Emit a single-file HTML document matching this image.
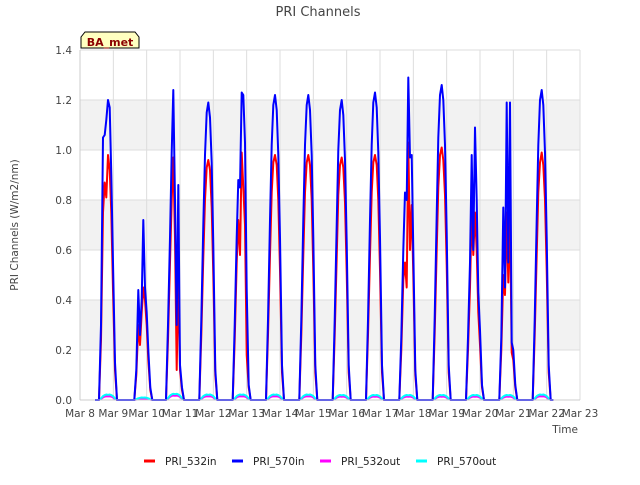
<!DOCTYPE html>
<html><head><meta charset="utf-8"><style>
body{margin:0;background:#fff;font-family:"Liberation Sans","DejaVu Sans",sans-serif}
svg text{font-family:"DejaVu Sans","Liberation Sans",sans-serif}
</style></head><body>
<svg id="chart" width="640" height="480" xmlns="http://www.w3.org/2000/svg">
<text x="318" y="16" text-anchor="middle" font-size="13" fill="#444">PRI Channels</text>
<g id="bands"></g><g id="grid"></g><g id="series"></g><g id="axes"></g>
<text transform="translate(18,225) rotate(-90)" text-anchor="middle" font-size="10.5" fill="#444">PRI Channels (W/m2/nm)</text>
<text x="578" y="433" text-anchor="end" font-size="10.5" fill="#444">Time</text>
<g>
<path d="M81,48 L81,37 L85,32 L135,32 L139,37 L139,48 Z" fill="#ffffc0" stroke="#000" stroke-width="1"/>
<text x="110" y="46" text-anchor="middle" font-size="11" font-weight="bold" fill="#8b0000">BA_met</text></g>
<g id="legend"></g>
</svg>
<script>
const xTicks=["Mar 8","Mar 9","Mar 10","Mar 11","Mar 12","Mar 13","Mar 14","Mar 15","Mar 16","Mar 17","Mar 18","Mar 19","Mar 20","Mar 21","Mar 22","Mar 23"];
const yTicks=[0,0.2,0.4,0.6,0.8,1.0,1.2,1.4];
const dayCenters=[0.84,1.9,2.85,3.85,4.85,5.85,6.85,7.85,8.85,9.85,10.85,11.85,12.85,13.85];
const offsets=[-0.27,-0.21,-0.15,-0.1,-0.05,0,0.05,0.1,0.15,0.21,0.27];
const in570=[
[0,0.3,1.05,1.06,1.12,1.2,1.17,0.9,0.55,0.15,0],
[0,0.12,0.44,0.26,0.4,0.72,0.45,0.35,0.2,0.05,0],
[0,0.3,0.65,0.99,1.24,0.8,0.3,0.86,0.14,0.05,0],
[0,0.32,0.7,0.98,1.15,1.19,1.13,0.95,0.62,0.12,0],
[0,0.3,0.65,0.88,0.85,1.23,1.22,1.03,0.44,0.06,0],
[0,0.32,0.72,1.02,1.18,1.22,1.16,0.98,0.65,0.14,0],
[0,0.32,0.72,1.02,1.18,1.22,1.16,0.98,0.65,0.14,0],
[0,0.32,0.7,1.0,1.16,1.2,1.14,0.96,0.63,0.14,0],
[0,0.32,0.72,1.02,1.19,1.23,1.17,0.99,0.65,0.14,0],
[0,0.25,0.6,0.83,0.8,1.29,0.97,0.98,0.6,0.12,0],
[0,0.33,0.74,1.05,1.22,1.26,1.2,1.02,0.67,0.14,0],
[0,0.25,0.55,0.98,0.6,1.09,0.8,0.43,0.28,0.06,0],
[0,0.25,0.77,0.45,1.19,0.55,1.19,0.23,0.2,0.06,0],
[0,0.32,0.72,1.02,1.2,1.24,1.18,0.99,0.65,0.14,0]];
const in532=[
[0,0.24,0.75,0.87,0.81,0.98,0.92,0.75,0.44,0.12,0],
[0,0.1,0.3,0.22,0.35,0.45,0.4,0.3,0.16,0.04,0],
[0,0.24,0.55,0.8,0.97,0.65,0.12,0.5,0.12,0.04,0],
[0,0.26,0.57,0.8,0.93,0.96,0.92,0.77,0.5,0.1,0],
[0,0.24,0.55,0.72,0.58,0.99,0.85,0.7,0.18,0.05,0],
[0,0.26,0.58,0.83,0.95,0.98,0.94,0.8,0.52,0.11,0],
[0,0.26,0.58,0.83,0.95,0.98,0.94,0.8,0.52,0.11,0],
[0,0.26,0.57,0.82,0.94,0.97,0.93,0.79,0.51,0.11,0],
[0,0.26,0.58,0.83,0.95,0.98,0.94,0.8,0.52,0.11,0],
[0,0.2,0.48,0.55,0.45,1.03,0.6,0.78,0.5,0.1,0],
[0,0.27,0.6,0.85,0.98,1.01,0.96,0.82,0.54,0.11,0],
[0,0.2,0.45,0.75,0.58,0.75,0.6,0.35,0.22,0.05,0],
[0,0.2,0.5,0.42,0.75,0.47,0.75,0.19,0.16,0.05,0],
[0,0.26,0.58,0.83,0.95,0.99,0.94,0.8,0.52,0.11,0]];
const out570=[0.022,0.01,0.025,0.022,0.022,0.022,0.022,0.02,0.02,0.02,0.02,0.02,0.02,0.022];
const out532=[0.015,0.006,0.018,0.015,0.015,0.015,0.015,0.014,0.014,0.014,0.014,0.014,0.014,0.015];
const outShape=[0,0.3,0.7,0.9,1,0.95,1,0.9,0.7,0.3,0];
const startDay=0.45, endDay=14.2;
const X0=80,X1=580,Y0=400,Y1=50;
const xs=d=>X0+(d/15)*(X1-X0);
const ys=v=>Y0-(v/1.4)*(Y0-Y1);
const NS="http://www.w3.org/2000/svg";
function mk(tag,attrs,parent){const e=document.createElementNS(NS,tag);for(const k in attrs)e.setAttribute(k,attrs[k]);parent.appendChild(e);return e;}
const bands=document.getElementById('bands'),grid=document.getElementById('grid'),axes=document.getElementById('axes'),series=document.getElementById('series'),legend=document.getElementById('legend');
mk('rect',{x:X0,y:Y1,width:X1-X0,height:Y0-Y1,fill:'#fff'},bands);
for(let i=1;i<yTicks.length-1;i+=2){const r=mk('rect',{x:X0,y:ys(yTicks[i+1]),width:X1-X0,height:ys(yTicks[i])-ys(yTicks[i+1]),fill:'#f2f2f2'},bands);

}
yTicks.forEach(v=>{const l=mk('line',{x1:X0,x2:X1,y1:ys(v),y2:ys(v),stroke:'#ddd'},grid);


const t=mk('text',{x:X0-8,y:ys(v)+4,'text-anchor':'end','font-size':'10.5',fill:'#444'},axes);t.textContent=v.toFixed(1);

});
xTicks.forEach((s,i)=>{const l=mk('line',{x1:xs(i),x2:xs(i),y1:Y1,y2:Y0,stroke:'#ddd'},grid);


const t=mk('text',{x:xs(i),y:Y0+17,'text-anchor':'middle','font-size':'10.5',fill:'#444'},axes);t.textContent=s;

});
mk('line',{x1:X0,x2:X0,y1:Y1,y2:Y0,stroke:'#ccc'},axes);
mk('line',{x1:X0,x2:X1,y1:Y0,y2:Y0,stroke:'#ccc'},axes);
function buildPts(getVal){let p=[[startDay,0]];dayCenters.forEach((c,i)=>{offsets.forEach((o,j)=>p.push([c+o,getVal(i,j)]));});p.push([endDay,0]);return p.map(q=>xs(q[0]).toFixed(1)+','+ys(q[1]).toFixed(1)).join(' ');}
const defs=[
{name:'PRI_532out',color:'#ff00ff',f:(i,j)=>out532[i]*outShape[j]},
{name:'PRI_570out',color:'#00ffff',f:(i,j)=>out570[i]*outShape[j]},
{name:'PRI_532in',color:'#ff0000',f:(i,j)=>in532[i][j]},
{name:'PRI_570in',color:'#0000ff',f:(i,j)=>in570[i][j]}];
defs.forEach(d=>{const pl=mk('polyline',{points:buildPts(d.f),fill:'none',stroke:d.color,'stroke-width':2,'stroke-linejoin':'round'},series);

});
const leg=[['PRI_532in','#ff0000',144],['PRI_570in','#0000ff',232],['PRI_532out','#ff00ff',320],['PRI_570out','#00ffff',416]];
leg.forEach(l=>{const g=mk('g',{},legend);


mk('line',{x1:l[2],x2:l[2]+11,y1:461,y2:461,stroke:l[1],'stroke-width':3},g);
const t=mk('text',{x:l[2]+21,y:465,'font-size':'10.5',fill:'#222'},g);t.textContent=l[0];});
</script>
</body></html>
